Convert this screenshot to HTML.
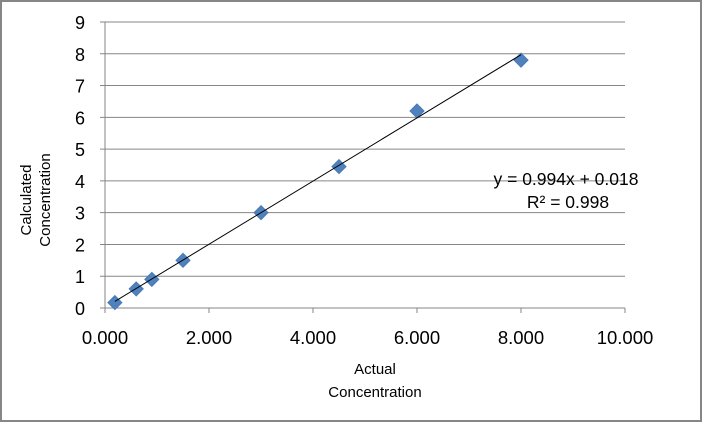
<!DOCTYPE html>
<html><head><style>
html,body{margin:0;padding:0;background:#fff;}
svg{display:block;font-family:"Liberation Sans",Calibri,sans-serif;}
</style></head><body>
<svg id="chart" width="702" height="422">
<rect x="1" y="1" width="700" height="420" fill="#fff" stroke="#868686" stroke-width="2"/>
<g id="grid"></g><g id="axes"></g><g id="marks"></g>
<text x="375" y="374" font-size="15" text-anchor="middle">Actual</text>
<text x="375" y="397" font-size="15" text-anchor="middle">Concentration</text>
<g transform="translate(31,200) rotate(-90)">
<text x="0" y="0" font-size="15" text-anchor="middle">Calculated</text>
<text x="0" y="19" font-size="15" text-anchor="middle">Concentration</text></g>
<text x="566" y="185" font-size="17.5" text-anchor="middle">y = 0.994x + 0.018</text>
<text x="568" y="208" font-size="17.5" text-anchor="middle">R² = 0.998</text>
</svg>
<script>
const xValues=[0.19,0.6,0.9,1.5,3.0,4.5,6.0,8.0];
const yValues=[0.17,0.6,0.9,1.5,3.0,4.45,6.2,7.8];
const xTicks=[0,2,4,6,8,10];
const yTicks=[0,1,2,3,4,5,6,7,8,9];
const slope=0.994, intercept=0.018;
const NS="http://www.w3.org/2000/svg";
const X=v=>105+v*52, Y=v=>308-v*31.78;
function mk(t,a,p){const e=document.createElementNS(NS,t);for(const k in a)e.setAttribute(k,a[k]);p.appendChild(e);return e;}
const grid=document.getElementById('grid'),axes=document.getElementById('axes'),marks=document.getElementById('marks');
yTicks.forEach(v=>{
 if(v>0){const l=mk('line',{x1:100,x2:X(10),y1:Y(v),y2:Y(v),stroke:'#868686'},grid);
 
 }
 else{mk('line',{x1:100,x2:105,y1:Y(v),y2:Y(v),stroke:'#868686'},axes);}
 const t=mk('text',{x:85,y:Y(v)+7,'font-size':18,'text-anchor':'end'},axes);t.textContent=v;
 
 
});
xTicks.forEach(v=>{
 mk('line',{x1:X(v),x2:X(v),y1:308,y2:313,stroke:'#868686'},axes);
 const t=mk('text',{x:X(v),y:344,'font-size':18.5,'text-anchor':'middle'},axes);t.textContent=v.toFixed(3);
 
 
});
const ya=mk('line',{x1:105,x2:105,y1:Y(9),y2:308,stroke:'#868686'},axes);


const xa=mk('line',{x1:105,x2:X(10),y1:308,y2:308,stroke:'#868686'},axes);


const x0=Math.min(...xValues),x1=Math.max(...xValues);
const tl=mk('line',{x1:X(x0),y1:Y(slope*x0+intercept),x2:X(x1),y2:Y(slope*x1+intercept),stroke:'#000','stroke-width':1},marks);


xValues.forEach((xv,i)=>{
 const cx=X(xv),cy=Y(yValues[i]),r=7;
 const p=mk('polygon',{points:`${cx},${cy-r} ${cx+r},${cy} ${cx},${cy+r} ${cx-r},${cy}`,fill:'#4f81bd',stroke:'#4a7ab5'},marks);
 
 
});
marks.appendChild(tl);
</script>
</body></html>
